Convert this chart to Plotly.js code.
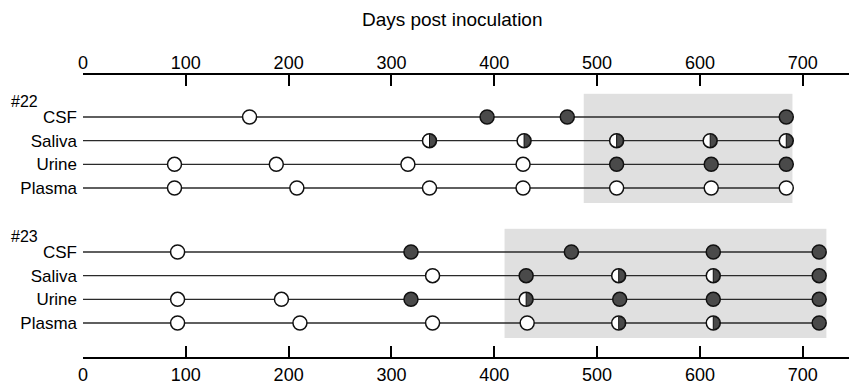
<!DOCTYPE html>
<html>
<head>
<meta charset="utf-8">
<script src="https://cdn.plot.ly/plotly-3.0.1.min.js"></script>
<style>html,body{margin:0;padding:0;background:#fff;}#chart{width:849px;height:392px;}</style>
</head>
<body>
<div id="chart"></div>
<script>
// ---- data ----
const sampleTypes = ['CSF', 'Saliva', 'Urine', 'Plasma'];
const xTicks = [0, 100, 200, 300, 400, 500, 600, 700];
const axisTitle = 'Days post inoculation';
const animals = ['#22', '#23'];

// days of sampling and result per sample: o = negative (open), h = partial (half), f = positive (filled)
const a22_CSF_days    = [162, 393, 471, 684];
const a22_CSF_state   = ['o', 'f', 'f', 'f'];
const a22_Saliva_days = [337, 429, 519, 610, 684];
const a22_Saliva_state= ['h', 'h', 'h', 'h', 'h'];
const a22_Urine_days  = [89, 188, 316, 428, 519, 611, 684];
const a22_Urine_state = ['o', 'o', 'o', 'o', 'f', 'f', 'f'];
const a22_Plasma_days = [89, 208, 337, 428, 519, 611, 684];
const a22_Plasma_state= ['o', 'o', 'o', 'o', 'o', 'o', 'o'];

const a23_CSF_days    = [92, 319, 475, 613, 716];
const a23_CSF_state   = ['o', 'f', 'f', 'f', 'f'];
const a23_Saliva_days = [340, 431, 521, 613, 716];
const a23_Saliva_state= ['o', 'f', 'h', 'h', 'f'];
const a23_Urine_days  = [92, 193, 319, 431, 522, 613, 716];
const a23_Urine_state = ['o', 'o', 'f', 'h', 'f', 'f', 'f'];
const a23_Plasma_days = [92, 211, 340, 432, 521, 613, 716];
const a23_Plasma_state= ['o', 'o', 'o', 'o', 'h', 'h', 'f'];

// shaded periods (days)
const shade22 = [487, 690];
const shade23 = [410, 723];

// ---- build ----
const groups = [
  {name: animals[0], yaxis: 'y',  rows: [[a22_CSF_days, a22_CSF_state], [a22_Saliva_days, a22_Saliva_state], [a22_Urine_days, a22_Urine_state], [a22_Plasma_days, a22_Plasma_state]], shade: shade22},
  {name: animals[1], yaxis: 'y2', rows: [[a23_CSF_days, a23_CSF_state], [a23_Saliva_days, a23_Saliva_state], [a23_Urine_days, a23_Urine_state], [a23_Plasma_days, a23_Plasma_state]], shade: shade23}
];

const DARK = '#4a4a4a';
const traces = [];
const shapes = [];
const annotations = [];
const R = 6.4, K = 0.5523 * R;
const halfPath = `M0,${-R} C${K},${-R} ${R},${-K} ${R},0 C${R},${K} ${K},${R} 0,${R} Z`;

groups.forEach(g => {
  const yref = g.yaxis;
  shapes.push({type: 'rect', xref: 'x', yref: yref, x0: g.shade[0], x1: g.shade[1], y0: -0.98, y1: 3.63,
    fillcolor: '#e0e0e0', line: {width: 0}, layer: 'below'});
  g.rows.forEach((r, i) => {
    const days = r[0], st = r[1];
    traces.push({x: [0, days[days.length - 1]], y: [i, i], xaxis: 'x', yaxis: yref, mode: 'lines',
      line: {color: '#2a2a2a', width: 1.3}, hoverinfo: 'skip', showlegend: false});
    traces.push({x: days, y: days.map(() => i), xaxis: 'x', yaxis: yref, mode: 'markers', showlegend: false,
      marker: {size: 14, color: st.map(s => s === 'f' ? DARK : '#ffffff'), line: {color: '#111', width: 1.5}}});
    days.forEach((d, j) => {
      if (st[j] === 'h') {
        shapes.push({type: 'path', xref: 'x', yref: yref, xsizemode: 'pixel', ysizemode: 'pixel',
          xanchor: d, yanchor: i, path: halfPath, fillcolor: DARK, line: {color: '#111', width: 1}, layer: 'above'});
      }
    });
  });
  annotations.push({text: g.name, xref: 'paper', yref: yref, x: -0.096, y: -0.64, xanchor: 'left', yanchor: 'middle',
    showarrow: false, font: {size: 16, color: '#000'}});
});

const xCommon = {range: [0, 745], tickvals: xTicks, ticktext: xTicks.map(String), ticks: 'inside', ticklen: 11, tickwidth: 2,
  tickcolor: '#000', showline: true, linewidth: 2, linecolor: '#000', showgrid: false, zeroline: false,
  tickfont: {size: 18, color: '#000'}, fixedrange: true};
const yCommon = {range: [3.65, -1.0], tickvals: [0, 1, 2, 3], ticktext: sampleTypes, ticks: '', showline: false,
  showgrid: false, zeroline: false, tickfont: {size: 17, color: '#000'}, anchor: 'x', fixedrange: true, ticklabelstandoff: 5};

const layout = {
  width: 849, height: 392,
  margin: {l: 83, r: 0, t: 74, b: 34},
  paper_bgcolor: '#fff', plot_bgcolor: 'rgba(0,0,0,0)',
  font: {family: 'Liberation Sans, Arial, sans-serif', color: '#000'},
  showlegend: false,
  title: {text: axisTitle, font: {size: 19, color: '#000'}, xref: 'paper', x: 0.482, xanchor: 'center',
    yref: 'container', y: 0.951, yanchor: 'middle'},
  xaxis: Object.assign({}, xCommon, {anchor: 'free', position: 0, side: 'bottom'}),
  xaxis2: Object.assign({}, xCommon, {anchor: 'free', position: 1, side: 'top', overlaying: 'x', matches: 'x',
    ticklabelstandoff: -3}),
  yaxis: Object.assign({}, yCommon, {domain: [0.5444, 0.9319]}),
  yaxis2: Object.assign({}, yCommon, {domain: [0.0690, 0.4566]}),
  shapes: shapes,
  annotations: annotations
};

// invisible trace to activate top axis
traces.push({x: [0], y: [0], xaxis: 'x2', yaxis: 'y', mode: 'markers', marker: {opacity: 0}, hoverinfo: 'skip', showlegend: false});

Plotly.newPlot('chart', traces, layout, {displayModeBar: false, staticPlot: true});
</script>
</body>
</html>
